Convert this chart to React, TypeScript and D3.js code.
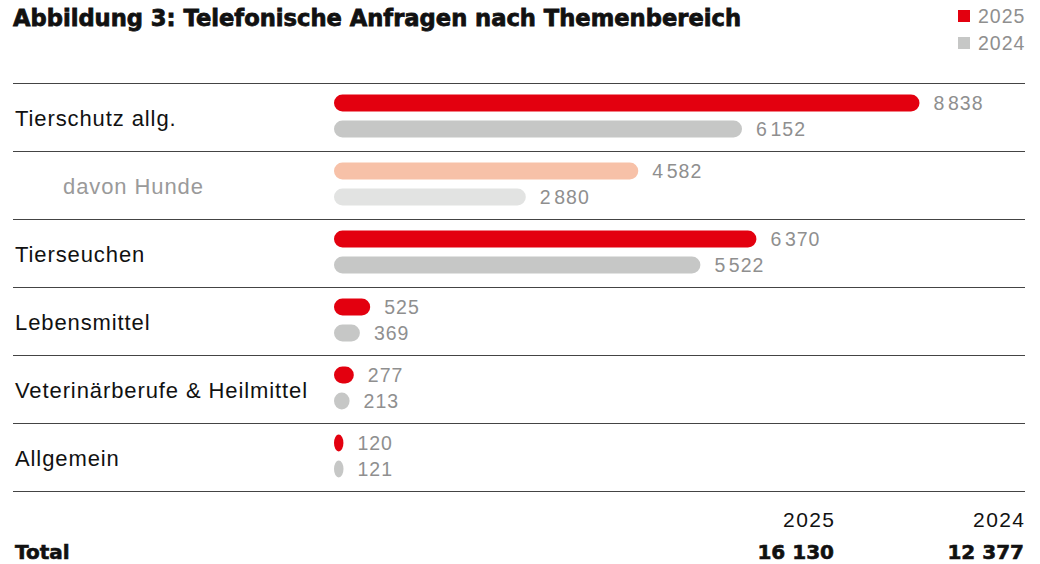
import React from "react";
import * as d3 from "d3";

const categories = ["Tierschutz allg.", "davon Hunde", "Tierseuchen", "Lebensmittel", "Veterinärberufe & Heilmittel", "Allgemein"];
const values2025 = [8838, 4582, 6370, 525, 277, 120];
const values2024 = [6152, 2880, 5522, 369, 213, 121];
const subRow = [false, true, false, false, false, false];
const years = ["2025", "2024"];
const totals = ["16 130", "12 377"];

const W = 1040;
const H = 564;
const RED = "#E3000F";
const GRAY = "#C6C7C6";
const PEACH = "#F7C1A8";
const LIGHT = "#E2E3E2";
const FONT = "'Liberation Sans', Arial, Helvetica, sans-serif";
const BOLD = "'DejaVu Sans', 'Liberation Sans', sans-serif";

const fmt = (v: number) => {
  const s = String(v);
  return s.length > 3 ? s.slice(0, s.length - 3) + "\u200A" + s.slice(-3) : s;
};

export default function App() {
  const y = d3.scaleBand<number>().domain(d3.range(categories.length)).range([83, 491]).paddingInner(0).paddingOuter(0);
  const x = d3.scaleLinear().domain([0, 8838]).range([0, 584]);
  const x0 = 334;
  const barH = 17;

  const bar = (v: number, cy: number, fill: string, key: string) => {
    const w = x(v) + 1.5;
    const r = Math.min(barH / 2, w / 2);
    return (
      <g key={key}>
        <rect x={x0} y={cy - barH / 2} width={w} height={barH} rx={r} ry={barH / 2} fill={fill} />
        <text x={x0 + w + 14} y={cy} dy="0.35em" fontSize={19.5} fill="#8f8f8f" fontFamily={FONT} letterSpacing={1}>{fmt(v)}</text>
      </g>
    );
  };

  return (
    <svg width={W} height={H} style={{ position: "absolute", left: 0, top: 0, background: "#fff" }}>
      <text x={13} y={26} fontSize={22.5} fontWeight={700} fontFamily={BOLD} fill="#111" stroke="#111" strokeWidth={0.8} textLength={728} lengthAdjust="spacingAndGlyphs">
        Abbildung 3: Telefonische Anfragen nach Themenbereich
      </text>
      <rect x={958} y={10} width={12} height={12} fill={RED} />
      <text x={978} y={16} dy="0.35em" fontSize={19.5} fill="#8f8f8f" fontFamily={FONT} letterSpacing={1}>2025</text>
      <rect x={958} y={37} width={12} height={12} fill={GRAY} />
      <text x={978} y={43} dy="0.35em" fontSize={19.5} fill="#8f8f8f" fontFamily={FONT} letterSpacing={1}>2024</text>

      {d3.range(categories.length + 1).map((i) => {
        const yy = i < categories.length ? (y(i) as number) : 491;
        return <line key={"l" + i} x1={13} x2={1025} y1={yy + 0.5} y2={yy + 0.5} stroke="#444" strokeWidth={1} />;
      })}

      {categories.map((c, i) => {
        const top = y(i) as number;
        const bw = y.bandwidth();
        const sub = subRow[i];
        return (
          <g key={c}>
            <text x={sub ? 63 : 15} y={top + bw / 2 + 1} dy="0.35em" fontSize={22} fill={sub ? "#9a9a9a" : "#111"} fontFamily={FONT} letterSpacing={0.9}>{c}</text>
            {bar(values2025[i], top + 20, sub ? PEACH : RED, c + "a")}
            {bar(values2024[i], top + 46, sub ? LIGHT : GRAY, c + "b")}
          </g>
        );
      })}

      {years.map((yr, j) => (
        <text key={yr} x={(j === 0 ? 834 : 1024) + 1.4} y={520} dy="0.35em" textAnchor="end" fontSize={21} fill="#111" fontFamily={FONT} letterSpacing={1.4}>{yr}</text>
      ))}
      <text x={15} y={552} dy="0.35em" fontSize={20} fontWeight={700} fill="#111" stroke="#111" strokeWidth={0.6} fontFamily={BOLD}>Total</text>
      {totals.map((t, j) => (
        <text key={t} x={j === 0 ? 834 : 1024} y={552} dy="0.35em" textAnchor="end" fontSize={20} fontWeight={700} fill="#111" stroke="#111" strokeWidth={0.6} fontFamily={BOLD}>{t}</text>
      ))}
    </svg>
  );
}
